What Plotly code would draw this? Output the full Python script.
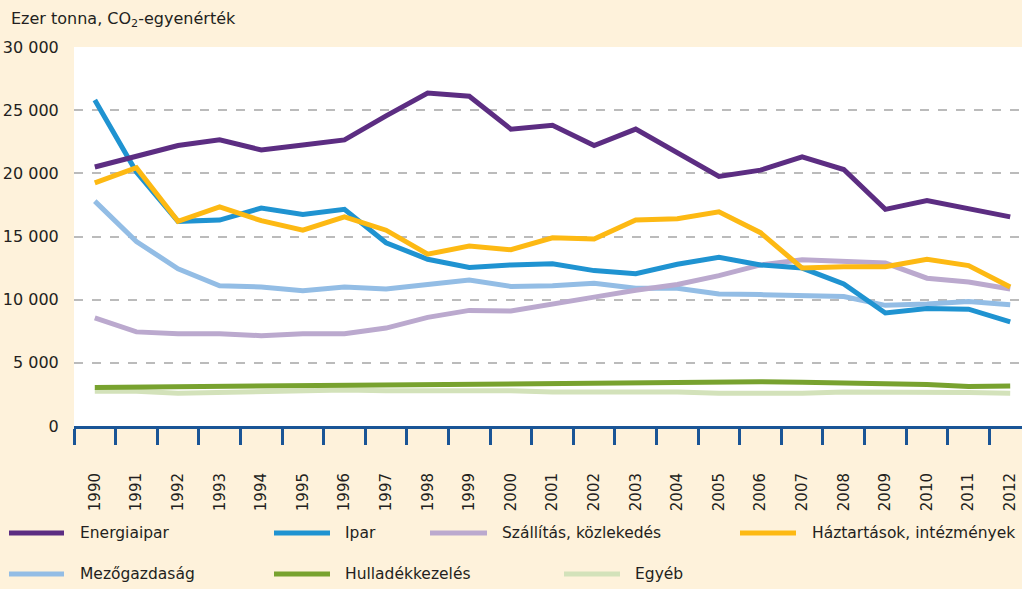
import plotly.graph_objects as go

years = [str(y) for y in range(1990, 2013)]

energiaipar = [20500, 21400, 22200, 22650, 21850, 22250, 22650, 24550, 26350, 26100, 23500, 23800,
               22200, 23500, 21600, 19750, 20250, 21300, 20300, 17150, 17850, 17200, 16550]
ipar = [25800, 20100, 16200, 16300, 17250, 16750, 17150, 14500, 13200, 12550, 12750, 12850,
        12300, 12050, 12800, 13350, 12750, 12500, 11250, 8950, 9300, 9250, 8250]
szallitas = [8550, 7450, 7300, 7300, 7150, 7300, 7300, 7750, 8600, 9150, 9100, 9600,
             10200, 10750, 11200, 11900, 12750, 13150, 13050, 12900, 11700, 11400, 10850]
haztartasok = [19250, 20450, 16200, 17350, 16250, 15500, 16550, 15500, 13600, 14250, 13950, 14900,
               14800, 16300, 16400, 16950, 15300, 12500, 12600, 12600, 13200, 12700, 11000]
mezogazdasag = [17800, 14600, 12450, 11100, 11000, 10700, 11000, 10850, 11200, 11550, 11050, 11100,
                11300, 10900, 10900, 10450, 10400, 10300, 10250, 9550, 9650, 9850, 9600]
hulladek = [3050, 3080, 3050, 3080, 3120, 3160, 3180, 3220, 3260, 3300, 3350, 3380,
            3420, 3460, 3500, 3520, 3500, 3460, 3400, 3330, 3280, 3120, 3170]
egyeb = [2750, 2750, 2600, 2650, 2750, 2800, 2850, 2800, 2800, 2750, 2800, 2700,
         2700, 2750, 2700, 2600, 2600, 2600, 2700, 2700, 2700, 2650, 2600]

series_names = ["Energiaipar", "Ipar", "Szállítás, közlekedés", "Háztartások, intézmények",
                "Mezőgazdaság", "Hulladékkezelés", "Egyéb"]
series_values = [energiaipar, ipar, szallitas, haztartasok, mezogazdasag, hulladek, egyeb]
colors = ["#5C2D82", "#1F93D1", "#BBA9CE", "#FDB913", "#93BDE5", "#78A22F", "#D3E2BA"]

y_tickvals = [0, 5000, 10000, 15000, 20000, 25000, 30000]
y_ticktext = ["0", "5 000", "10 000", "15 000", "20 000", "25 000", "30 000"]

FONT = "DejaVu Sans, sans-serif"
TXT = "#231F20"

W, H = 1022, 589
L, R, T, B = 74, 0, 47, 163
PW, PH = W - L - R, H - T - B

def px(x):
    return (x - L) / PW

def py(y):
    return (H - B - y) / PH

fig = go.Figure()
xs = list(range(len(years)))
draw_order = [6, 5, 4, 2, 1, 3, 0]
for i in draw_order:
    fig.add_trace(go.Scatter(x=xs, y=series_values[i], mode="lines", name=series_names[i],
                             line=dict(color=colors[i], width=5), showlegend=False))

# custom legend (pixel positions)
legend_items = [
    (0, 9, 64, 78, 533), (1, 274, 330, 343, 533), (2, 430, 487, 500, 533), (3, 740, 796, 810, 533),
    (4, 9, 64, 78, 574), (5, 274, 330, 343, 574), (6, 564, 620, 633, 574),
]
shapes = []
annotations = []
for idx, x0, x1, xt, yy in legend_items:
    shapes.append(dict(type="line", xref="paper", yref="paper", x0=px(x0), x1=px(x1),
                       y0=py(yy), y1=py(yy), line=dict(color=colors[idx], width=5)))
    annotations.append(dict(xref="paper", yref="paper", x=px(xt), y=py(yy), text=series_names[idx],
                            showarrow=False, xanchor="left", yanchor="middle",
                            font=dict(family=FONT, size=15.5, color=TXT)))

annotations.append(dict(xref="paper", yref="paper", x=px(9), y=py(20),
                        text="Ezer tonna, CO<sub>2</sub>-egyenérték", showarrow=False,
                        xanchor="left", yanchor="middle", font=dict(family=FONT, size=16, color=TXT)))

right_edge = 22.5 - (1031 - 1022) / 41.6

fig.update_layout(
    width=W, height=H,
    margin=dict(l=L, r=R, t=T, b=B),
    paper_bgcolor="#FEF2DB",
    plot_bgcolor="#FFFFFF",
    font=dict(family=FONT, size=16, color=TXT),
    shapes=shapes,
    annotations=annotations,
    showlegend=False,
    xaxis=dict(
        range=[-0.5, right_edge],
        tickmode="array", tickvals=xs, ticktext=years, tickangle=-90,
        ticks="outside", ticklen=38, tickcolor="rgba(0,0,0,0)",
        showgrid=False, zeroline=False,
        showline=True, linecolor="#1A5596", linewidth=3,
        tickfont=dict(family=FONT, size=15, color=TXT),
        minor=dict(tickmode="linear", tick0=-0.5, dtick=1, ticks="outside", ticklen=16,
                   tickwidth=3, tickcolor="#1A5596", showgrid=False),
    ),
    yaxis=dict(
        range=[0, 30000],
        tickmode="array", tickvals=y_tickvals, ticktext=y_ticktext,
        showgrid=True, gridcolor="#BBBBBB", griddash="dash", gridwidth=1.5,
        zeroline=False, showline=False,
        ticks="outside", ticklen=11, tickcolor="rgba(0,0,0,0)",
        tickfont=dict(family=FONT, size=16, color=TXT),
    ),
)

fig.write_html("out.html", config={"displayModeBar": False},
               post_script="document.body.style.margin='0';document.body.style.overflow='hidden';")
